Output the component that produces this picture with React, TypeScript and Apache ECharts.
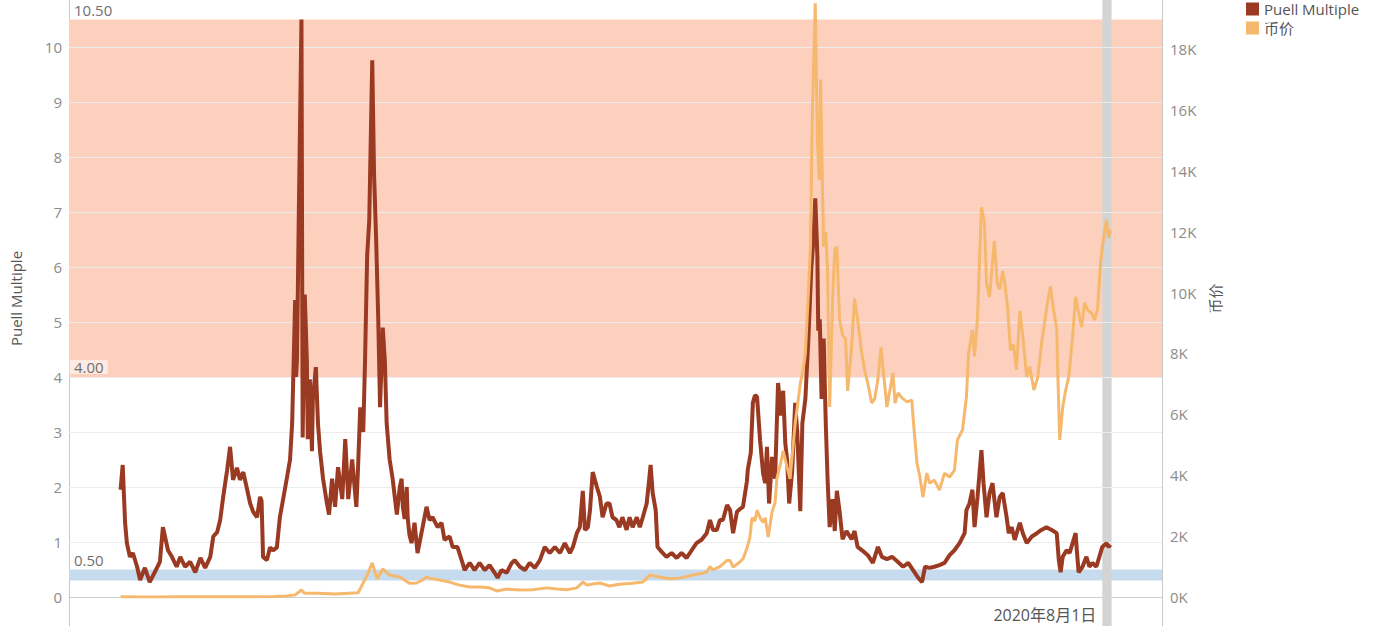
import { useEffect, useRef } from 'react';
import * as echarts from 'echarts';

// Puell Multiple (left axis)
const puell: [string, number][] = [
  ['2011-08-16',1.95],['2011-08-23',2.4],['2011-08-31',1.35],['2011-09-06',0.98],['2011-09-16',0.73],['2011-09-26',0.8],['2011-10-10',0.55],['2011-10-20',0.31],['2011-11-05',0.53],['2011-11-21',0.27],['2011-12-08',0.45],['2011-12-25',0.64],
  ['2012-01-04',1.27],['2012-01-11',1.1],['2012-01-21',0.85],['2012-02-03',0.73],['2012-02-19',0.55],['2012-03-02',0.73],['2012-03-18',0.55],['2012-04-04',0.64],['2012-04-21',0.45],['2012-05-08',0.71],['2012-05-24',0.53],['2012-06-10',0.73],['2012-06-20',1.1],['2012-07-03',1.18],['2012-07-13',1.4],['2012-07-23',1.82],['2012-08-05',2.3],['2012-08-15',2.73],['2012-08-25',2.13],['2012-09-07',2.35],['2012-09-17',2.13],['2012-09-28',2.27],['2012-10-11',1.95],['2012-10-21',1.7],['2012-10-31',1.55],['2012-11-13',1.45],['2012-11-23',1.82],['2012-11-28',1.75],['2012-12-03',0.73],['2012-12-16',0.67],['2012-12-26',0.9],
  ['2013-01-05',0.85],['2013-01-18',0.9],['2013-01-28',1.45],['2013-02-07',1.75],['2013-02-20',2.15],['2013-03-03',2.5],['2013-03-10',3.16],['2013-03-20',5.4],['2013-03-23',4.0],['2013-03-26',4.3],['2013-04-01',6.9],['2013-04-10',10.5],['2013-04-14',2.9],['2013-04-21',5.5],['2013-04-28',4.3],['2013-05-01',2.87],['2013-05-08',3.96],['2013-05-15',2.65],['2013-05-18',3.6],['2013-05-28',4.18],['2013-06-04',3.16],['2013-06-11',2.65],['2013-06-21',2.15],['2013-07-04',1.7],['2013-07-11',1.5],['2013-07-21',2.15],['2013-07-31',1.64],['2013-08-10',2.36],['2013-08-24',1.78],['2013-09-03',2.87],['2013-09-13',1.78],['2013-09-26',2.5],['2013-10-10',1.64],['2013-10-16',2.4],['2013-10-23',3.45],['2013-11-02',3.0],['2013-11-08',4.3],['2013-11-15',6.2],['2013-11-22',6.85],['2013-12-02',9.76],['2013-12-08',7.7],['2013-12-15',6.5],['2013-12-22',5.05],['2013-12-28',3.45],
  ['2014-01-06',4.9],['2014-01-13',4.3],['2014-01-19',3.16],['2014-01-29',2.5],['2014-02-08',2.15],['2014-02-22',1.5],['2014-03-04',2.0],['2014-03-10',2.15],['2014-03-14',1.64],['2014-03-20',1.42],['2014-03-27',2.0],['2014-03-30',1.45],['2014-04-05',1.13],['2014-04-12',0.98],['2014-04-22',1.35],['2014-05-02',0.8],['2014-05-15',1.16],['2014-05-19',1.27],['2014-06-01',1.64],['2014-06-11',1.4],['2014-06-21',1.45],['2014-07-08',1.27],['2014-07-21',1.35],['2014-07-31',1.04],['2014-08-17',1.1],['2014-08-27',0.91],['2014-09-12',0.91],['2014-09-26',0.67],['2014-10-06',0.49],['2014-10-23',0.62],['2014-11-08',0.49],['2014-11-25',0.62],['2014-12-12',0.49],['2014-12-28',0.58],
  ['2015-01-14',0.44],['2015-01-24',0.35],['2015-02-06',0.49],['2015-02-23',0.44],['2015-03-12',0.62],['2015-03-22',0.67],['2015-04-08',0.55],['2015-04-25',0.49],['2015-05-11',0.62],['2015-05-28',0.53],['2015-06-14',0.67],['2015-06-30',0.91],['2015-07-17',0.8],['2015-08-03',0.91],['2015-08-20',0.8],['2015-09-05',0.98],['2015-09-22',0.8],['2015-10-02',0.91],['2015-10-15',1.16],['2015-10-25',1.27],['2015-11-04',1.93],['2015-11-11',1.22],['2015-11-21',1.27],['2015-11-28',1.58],['2015-12-07',2.27],['2015-12-21',2.0],['2015-12-31',1.82],
  ['2016-01-09',1.45],['2016-01-22',1.7],['2016-02-01',1.7],['2016-02-11',1.45],['2016-02-24',1.4],['2016-03-05',1.27],['2016-03-15',1.45],['2016-03-29',1.22],['2016-04-08',1.45],['2016-04-18',1.27],['2016-05-02',1.45],['2016-05-12',1.27],['2016-05-22',1.45],['2016-06-04',1.7],['2016-06-11',2.07],['2016-06-17',2.4],['2016-06-24',1.89],['2016-07-04',1.58],['2016-07-10',0.91],['2016-07-24',0.82],['2016-08-09',0.73],['2016-08-26',0.8],['2016-09-12',0.71],['2016-09-28',0.8],['2016-10-15',0.71],['2016-11-01',0.85],['2016-11-17',0.98],['2016-12-04',1.04],['2016-12-21',1.16],
  ['2017-01-01',1.4],['2017-01-11',1.22],['2017-01-24',1.22],['2017-02-03',1.4],['2017-02-13',1.4],['2017-02-27',1.67],['2017-03-09',1.58],['2017-03-19',1.16],['2017-04-01',1.55],['2017-04-11',1.6],['2017-04-21',1.64],['2017-05-04',2.1],['2017-05-07',2.31],['2017-05-17',2.62],['2017-05-24',3.53],['2017-05-31',3.67],['2017-06-07',3.64],['2017-06-17',2.85],['2017-06-27',2.25],['2017-07-04',2.07],['2017-07-10',2.73],['2017-07-17',1.7],['2017-07-27',2.55],['2017-08-06',2.15],['2017-08-16',3.89],['2017-08-26',3.3],['2017-09-02',3.75],['2017-09-09',2.8],['2017-09-15',2.5],['2017-09-22',1.7],['2017-10-02',2.29],['2017-10-12',3.53],['2017-10-19',3.0],['2017-10-29',1.56],['2017-11-05',3.16],['2017-11-15',3.6],['2017-11-25',4.69],['2017-12-05',6.0],['2017-12-12',6.5],['2017-12-18',7.25],['2017-12-25',6.2],['2017-12-28',4.84],
  ['2018-01-02',5.05],['2018-01-08',3.6],['2018-01-15',4.7],['2018-01-22',3.16],['2018-01-28',2.15],['2018-02-04',1.27],['2018-02-14',1.78],['2018-02-21',1.2],['2018-02-28',1.93],['2018-03-09',1.56],['2018-03-19',1.05],['2018-04-01',1.2],['2018-04-18',1.05],['2018-04-28',1.2],['2018-05-08',0.91],['2018-05-25',0.84],['2018-06-11',0.76],['2018-06-28',0.62],['2018-07-15',0.91],['2018-07-28',0.73],['2018-08-14',0.69],['2018-08-31',0.73],['2018-09-17',0.65],['2018-10-07',0.55],['2018-10-24',0.62],['2018-11-09',0.49],['2018-11-26',0.35],['2018-12-09',0.27],['2018-12-19',0.55],
  ['2019-01-03',0.53],['2019-01-19',0.55],['2019-02-05',0.58],['2019-02-22',0.62],['2019-03-11',0.76],['2019-03-27',0.85],['2019-04-13',0.98],['2019-04-30',1.16],['2019-05-06',1.58],['2019-05-16',1.7],['2019-05-26',1.95],['2019-06-02',1.27],['2019-06-12',1.82],['2019-06-25',2.67],['2019-07-02',2.07],['2019-07-12',1.45],['2019-07-22',1.89],['2019-08-01',2.07],['2019-08-14',1.45],['2019-08-25',1.82],['2019-09-04',1.89],['2019-09-17',1.45],['2019-09-24',1.16],['2019-10-04',1.27],['2019-10-14',1.04],['2019-10-31',1.35],['2019-11-10',1.16],['2019-11-23',0.98],['2019-12-10',1.1],['2019-12-27',1.16],
  ['2020-01-11',1.22],['2020-01-28',1.27],['2020-02-14',1.22],['2020-03-02',1.16],['2020-03-09',0.67],['2020-03-15',0.45],['2020-03-22',0.73],['2020-04-04',0.85],['2020-04-14',0.8],['2020-04-24',0.98],['2020-05-04',1.16],['2020-05-08',0.85],['2020-05-14',0.45],['2020-05-27',0.55],['2020-06-09',0.73],['2020-06-19',0.55],['2020-06-29',0.62],['2020-07-12',0.55],['2020-07-22',0.73],['2020-08-01',0.91],['2020-08-15',0.98],['2020-08-22',0.91],['2020-08-28',0.95],
];

// 币价 (right axis, USD)
const price: [string, number][] = [
  ['2011-08-16',11],['2011-10-20',4],['2011-12-25',4],['2012-03-01',5],['2012-06-01',5],['2012-08-15',11],['2012-11-01',11],['2013-01-05',14],['2013-02-20',30],['2013-03-20',70],['2013-04-10',230],['2013-04-20',120],['2013-06-01',120],['2013-08-01',100],['2013-10-16',140],['2013-11-15',720],['2013-12-02',1120],['2013-12-18',600],
  ['2014-01-06',920],['2014-01-29',720],['2014-03-04',660],['2014-04-05',450],['2014-04-29',460],['2014-05-19',560],['2014-06-01',660],['2014-06-11',620],['2014-07-14',560],['2014-08-17',490],['2014-09-19',390],['2014-10-23',330],['2014-11-25',330],['2014-12-28',300],
  ['2015-01-21',200],['2015-02-23',260],['2015-04-08',230],['2015-05-21',240],['2015-07-07',300],['2015-08-10',260],['2015-09-12',240],['2015-10-15',300],['2015-11-04',490],['2015-11-18',390],['2015-12-07',430],['2015-12-31',460],
  ['2016-02-01',360],['2016-03-05',420],['2016-04-18',450],['2016-05-22',490],['2016-06-14',720],['2016-07-17',660],['2016-08-19',600],['2016-09-22',620],['2016-10-25',700],['2016-11-17',750],['2016-12-08',780],['2016-12-21',820],
  ['2017-01-01',1000],['2017-01-11',890],['2017-02-03',1000],['2017-02-27',1200],['2017-03-09',1200],['2017-03-19',980],['2017-04-04',1100],['2017-04-21',1250],['2017-05-04',1600],['2017-05-14',1950],['2017-05-21',2600],['2017-05-31',2500],['2017-06-07',2850],['2017-06-17',2600],['2017-06-27',2450],['2017-07-04',2600],['2017-07-14',1970],['2017-07-27',2800],['2017-08-06',3100],['2017-08-12',3880],['2017-08-29',4600],['2017-09-02',4800],['2017-09-15',4270],['2017-09-25',3880],['2017-10-12',5700],['2017-10-29',7000],['2017-11-08',7500],['2017-11-15',8000],['2017-11-25',10000],['2017-12-02',11500],['2017-12-08',15700],['2017-12-18',19500],['2017-12-25',15000],['2017-12-31',13700],
  ['2018-01-05',17000],['2018-01-11',13400],['2018-01-15',11500],['2018-01-22',12000],['2018-01-28',10700],['2018-02-04',6240],['2018-02-14',9800],['2018-02-21',11400],['2018-02-28',11500],['2018-03-09',9130],['2018-03-19',8600],['2018-03-29',8470],['2018-04-05',6770],['2018-04-18',8200],['2018-04-28',9800],['2018-05-08',9130],['2018-05-21',8080],['2018-06-01',7420],['2018-06-11',7030],['2018-06-24',6370],['2018-07-04',6500],['2018-07-15',7160],['2018-07-25',8200],['2018-07-31',7600],['2018-08-14',6240],['2018-08-24',6800],['2018-09-03',7360],['2018-09-10',6370],['2018-09-20',6700],['2018-10-03',6540],['2018-10-20',6410],['2018-11-05',6470],['2018-11-09',5910],['2018-11-22',4400],['2018-12-02',3940],['2018-12-12',3280],['2018-12-25',4070],
  ['2019-01-03',3740],['2019-01-19',3840],['2019-02-05',3510],['2019-02-22',4070],['2019-03-11',3940],['2019-03-27',4170],['2019-04-06',5160],['2019-04-23',5490],['2019-05-06',6570],['2019-05-13',8000],['2019-05-26',8770],['2019-06-02',7900],['2019-06-12',9200],['2019-06-25',12800],['2019-07-05',12300],['2019-07-12',10300],['2019-07-22',9860],['2019-08-07',11700],['2019-08-17',10300],['2019-08-25',10100],['2019-09-04',10700],['2019-09-11',10300],['2019-09-20',9530],['2019-09-30',8100],['2019-10-10',8300],['2019-10-20',7460],['2019-10-31',9400],['2019-11-10',8550],['2019-11-23',7230],['2019-12-03',7560],['2019-12-17',6800],['2019-12-30',7230],
  ['2020-01-11',8300],['2020-01-21',8970],['2020-01-31',9660],['2020-02-10',10200],['2020-02-17',9660],['2020-03-02',8800],['2020-03-05',7560],['2020-03-12',5160],['2020-03-22',6240],['2020-04-01',6800],['2020-04-11',7230],['2020-04-24',8550],['2020-05-04',9860],['2020-05-10',9530],['2020-05-24',8870],['2020-06-03',9660],['2020-06-13',9430],['2020-06-26',9330],['2020-07-06',9100],['2020-07-16',9430],['2020-07-26',10970],['2020-08-01',11500],['2020-08-15',12400],['2020-08-22',11800],['2020-08-28',12060],
];

const gridValues = [1, 2, 3, 4, 5, 6, 7, 8, 9, 10];
const highBand: [number, number] = [4, 10.5];
const lowBand: [number, number] = [0.3, 0.5];
const bandLabels = [10.5, 4, 0.5];
const highlightMonth: [string, string] = ['2020-08-01', '2020-09-01'];
const highlightLabel = '2020年8月1日';
const xRange: [string, string] = ['2011-02-25', '2021-02-16'];

const FONT = '"Open Sans", "Noto Sans CJK SC", sans-serif';
const W = 1383;
const H = 626;

function localTime(s: string) {
  const [y, m, d] = s.split('-').map(Number);
  return new Date(y, m - 1, d).getTime();
}

export default function App() {
  const ref = useRef<HTMLDivElement>(null);
  useEffect(() => {
    document.body.style.margin = '0';
    const chart = echarts.init(ref.current!, undefined, { renderer: 'svg' });
    const option: any = {
      animation: false,
      textStyle: { fontFamily: FONT },
      grid: { left: 69, right: 221, top: 0, bottom: 29 },
      legend: {
        data: ['Puell Multiple', '币价'],
        orient: 'vertical',
        left: 1246,
        top: 1,
        padding: 0,
        icon: 'rect',
        itemWidth: 13,
        itemHeight: 13,
        itemGap: 3,
        textStyle: { color: '#555', fontSize: 15, fontFamily: FONT, lineHeight: 16 },
      },
      xAxis: {
        type: 'time',
        min: xRange[0],
        max: xRange[1],
        axisLabel: { show: false },
        axisTick: { show: false },
        splitLine: { show: false },
        axisLine: { lineStyle: { color: '#c4c4c4', type: 'dotted', width: 1 } },
      },
      yAxis: [
        {
          type: 'value',
          min: 0,
          max: 10.855,
          interval: 1,
          name: 'Puell Multiple',
          nameLocation: 'middle',
          nameGap: 46,
          nameRotate: 90,
          nameTextStyle: { color: '#555', fontSize: 15, fontFamily: FONT },
          axisLine: { show: true, lineStyle: { color: '#c8c8c8' } },
          axisTick: { show: false },
          splitLine: { show: false },
          axisLabel: { color: '#8c8c8c', fontSize: 15, margin: 7, showMaxLabel: false, fontFamily: FONT },
        },
        {
          type: 'value',
          min: 0,
          max: 19611,
          interval: 2000,
          position: 'right',
          name: '币价',
          nameLocation: 'middle',
          nameGap: 43,
          nameRotate: 90,
          nameTextStyle: { color: '#555', fontSize: 15, fontFamily: FONT },
          axisLine: { show: true, lineStyle: { color: '#c8c8c8' } },
          axisTick: { show: false },
          splitLine: { show: false },
          axisLabel: {
            color: '#8c8c8c',
            fontSize: 15,
            margin: 8,
            showMaxLabel: false,
            fontFamily: FONT,
            formatter: (v: number) => `${Math.round(v / 1000)}K`,
          },
        },
      ],
      series: [
        {
          name: 'bands',
          type: 'line',
          data: [],
          z: 1,
          silent: true,
          markArea: {
            silent: true,
            data: [
              [{ yAxis: highBand[0], itemStyle: { color: '#fdd0be' } }, { yAxis: highBand[1] }],
              [{ yAxis: lowBand[0], itemStyle: { color: '#c6dcee' } }, { yAxis: lowBand[1] }],
            ],
          },
        },
        {
          name: 'highlight',
          type: 'line',
          data: [],
          z: 2,
          silent: true,
          markArea: {
            silent: true,
            itemStyle: { color: '#d4d4d4' },
            data: [[{ xAxis: highlightMonth[0] }, { xAxis: highlightMonth[1] }]],
          },
        },
        {
          name: 'grid',
          type: 'line',
          data: [],
          z: 3,
          silent: true,
          markLine: {
            silent: true,
            symbol: 'none',
            label: { show: false },
            lineStyle: { color: '#ececec', width: 1, type: 'solid' },
            data: gridValues.map((v) => ({ yAxis: v })),
          },
        },
        {
          name: 'bandLabels',
          type: 'line',
          data: [],
          z: 4,
          silent: true,
          markLine: {
            silent: true,
            symbol: 'none',
            lineStyle: { color: 'rgba(0,0,0,0)', width: 0 },
            label: {
              show: true,
              position: 'insideStartTop',
              distance: [1, 3],
              color: '#707070',
              fontSize: 15,
              lineHeight: 14,
              fontFamily: FONT,
              backgroundColor: 'rgba(255,255,255,0.55)',
              padding: [0, 4, 0, 4],
              formatter: (p: any) => Number(p.value).toFixed(2),
            },
            data: bandLabels.map((v) => ({ yAxis: v })),
          },
        },
        {
          name: 'Puell Multiple',
          type: 'line',
          yAxisIndex: 0,
          data: puell,
          showSymbol: false,
          z: 5,
          color: '#9b3a22',
          lineStyle: { width: 4, color: '#9b3a22' },
        },
        {
          name: '币价',
          type: 'line',
          yAxisIndex: 1,
          data: price,
          showSymbol: false,
          z: 6,
          color: '#f6b86c',
          lineStyle: { width: 3, color: '#f6b86c' },
        },
      ],
    };
    chart.setOption(option);

    const x1 = chart.convertToPixel({ xAxisIndex: 0 }, localTime(highlightMonth[0])) as number;
    const x2 = chart.convertToPixel({ xAxisIndex: 0 }, localTime(highlightMonth[1])) as number;
    const yZero = chart.convertToPixel({ yAxisIndex: 0 }, 0) as number;
    const xLeft = chart.convertToPixel({ xAxisIndex: 0 }, localTime(xRange[0])) as number;
    const xRight = chart.convertToPixel({ xAxisIndex: 0 }, localTime(xRange[1])) as number;

    chart.setOption({
      graphic: [
        {
          type: 'rect',
          silent: true,
          z: 1,
          shape: { x: x1, y: yZero, width: x2 - x1, height: H - yZero },
          style: { fill: '#d4d4d4' },
        },
        {
          type: 'line',
          silent: true,
          shape: { x1: xLeft + 0.5, y1: yZero, x2: xLeft + 0.5, y2: H },
          style: { stroke: '#c8c8c8', lineWidth: 1 },
        },
        {
          type: 'line',
          silent: true,
          shape: { x1: xRight + 0.5, y1: yZero, x2: xRight + 0.5, y2: H },
          style: { stroke: '#c8c8c8', lineWidth: 1 },
        },
        {
          type: 'text',
          silent: true,
          x: x1 - 6,
          y: yZero + 18,
          style: {
            text: highlightLabel,
            fill: '#555',
            fontSize: 16,
            fontFamily: FONT,
            align: 'right',
            verticalAlign: 'middle',
          },
        },
      ],
    });

    return () => chart.dispose();
  }, []);

  return (
    <div style={{ position: 'fixed', left: 0, top: 0, width: W, height: H, overflow: 'hidden', background: '#fff' }}>
      <div ref={ref} style={{ width: W, height: H }} />
    </div>
  );
}
